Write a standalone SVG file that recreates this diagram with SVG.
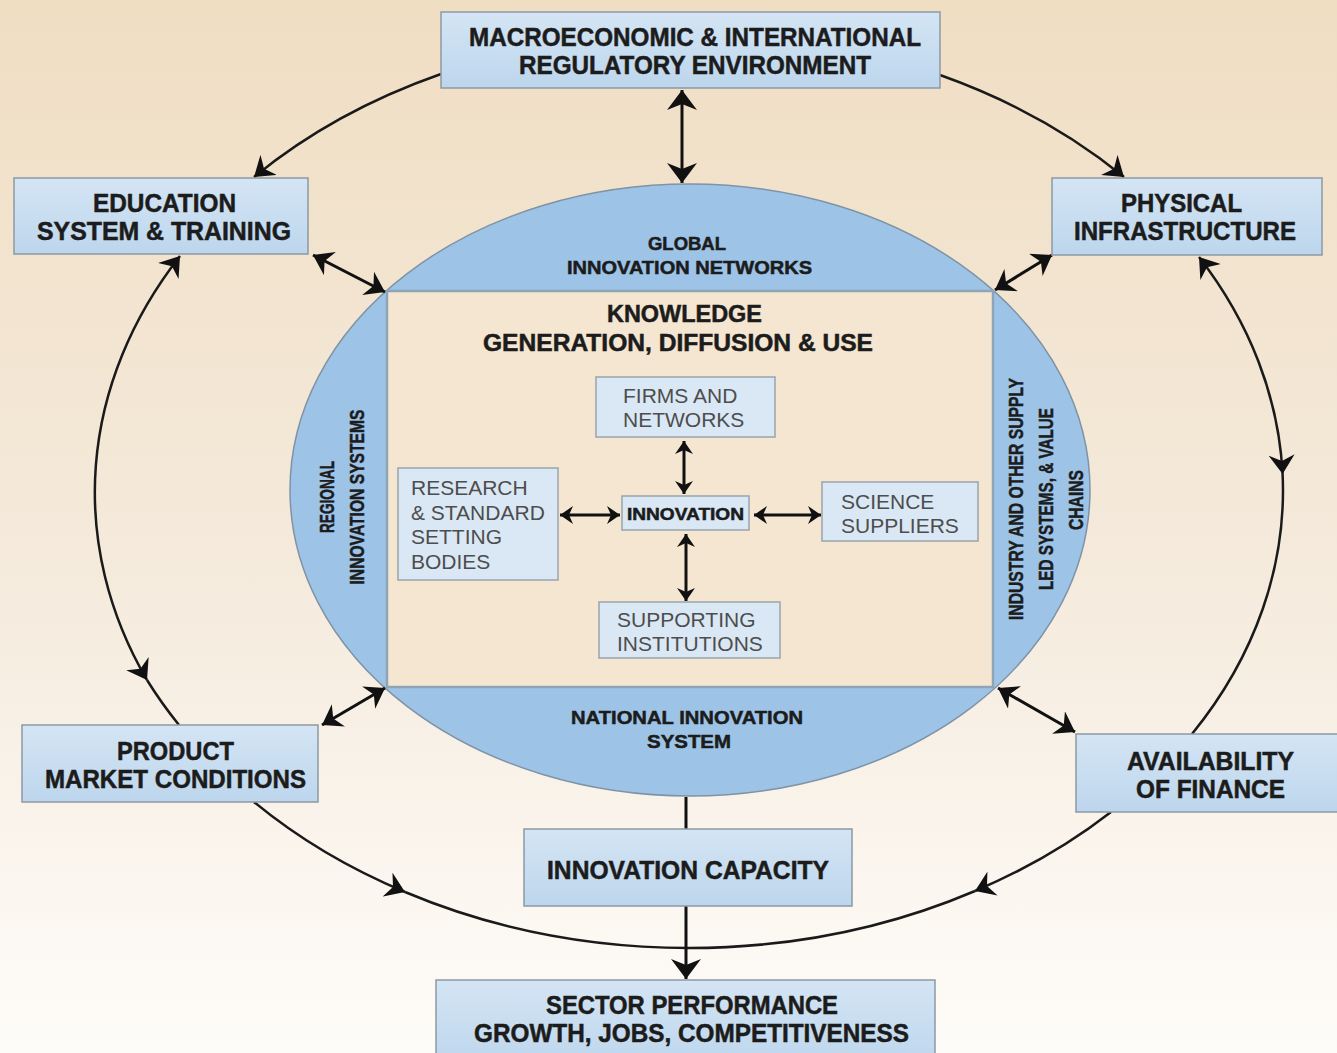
<svg xmlns="http://www.w3.org/2000/svg" width="1337" height="1053" viewBox="0 0 1337 1053">
<defs>
<linearGradient id="bg" x1="0" y1="0" x2="0" y2="1">
<stop offset="0" stop-color="#f0dec3"/>
<stop offset="0.5" stop-color="#f4e9da"/>
<stop offset="1" stop-color="#fefcf9"/>
</linearGradient>
<linearGradient id="boxg" x1="0" y1="0" x2="0" y2="1">
<stop offset="0" stop-color="#d4e5f4"/>
<stop offset="1" stop-color="#bdd6ed"/>
</linearGradient>
<marker id="big" markerUnits="userSpaceOnUse" viewBox="0 0 20 30" refX="20" refY="15" markerWidth="20" markerHeight="30" orient="auto-start-reverse">
<path d="M0,0 L20,15 L0,30 L6,15 z" fill="#111"/>
</marker>
<marker id="med" markerUnits="userSpaceOnUse" viewBox="0 0 19 26" refX="19" refY="13" markerWidth="19" markerHeight="26" orient="auto-start-reverse">
<path d="M0,0 L19,13 L0,26 L6,13 z" fill="#111"/>
</marker>
<marker id="sm" markerUnits="userSpaceOnUse" viewBox="0 0 13 18" refX="13" refY="9" markerWidth="13" markerHeight="18" orient="auto-start-reverse">
<path d="M0,0 L13,9 L0,18 L4,9 z" fill="#111"/>
</marker>
</defs>
<style>
.box{fill:url(#boxg);stroke:#8c99a4;stroke-width:1.5}
.ibox{fill:#dae8f5;stroke:#9aa4ac;stroke-width:1.5}
.b{font-family:"Liberation Sans",Arial,sans-serif;font-weight:bold;fill:#1c1c1c;stroke:#1c1c1c;stroke-width:0.5}
.r{font-family:"Liberation Sans",Arial,sans-serif;font-size:21px;fill:#4d4d4d}
.arc{fill:none;stroke:#1a1a1a;stroke-width:2.5}
.dbl{fill:none;stroke:#111;stroke-width:3}
</style>
<rect x="0" y="0" width="1337" height="1053" fill="url(#bg)"/>

<g id="innovation-system">
<ellipse cx="690" cy="490" rx="400" ry="306" fill="#9dc4e7" stroke="#7f93a5" stroke-width="1.5"/>
<rect x="387" y="291" width="606" height="396" fill="#f4e6d1" stroke="#8fa4b7" stroke-width="2.5"/>
<text class="b" font-size="18" x="648" y="250" textLength="78" lengthAdjust="spacingAndGlyphs">GLOBAL</text>
<text class="b" font-size="18" x="567" y="274" textLength="245" lengthAdjust="spacingAndGlyphs">INNOVATION NETWORKS</text>
<text class="b" font-size="18" x="571" y="724" textLength="232" lengthAdjust="spacingAndGlyphs">NATIONAL INNOVATION</text>
<text class="b" font-size="18" x="647" y="748" textLength="84" lengthAdjust="spacingAndGlyphs">SYSTEM</text>
<text class="b" font-size="21" text-anchor="middle" transform="translate(334,497) rotate(-90)" textLength="72" lengthAdjust="spacingAndGlyphs">REGIONAL</text>
<text class="b" font-size="21" text-anchor="middle" transform="translate(364,497) rotate(-90)" textLength="175" lengthAdjust="spacingAndGlyphs">INNOVATION SYSTEMS</text>
<text class="b" font-size="21" text-anchor="middle" transform="translate(1023,499) rotate(-90)" textLength="242" lengthAdjust="spacingAndGlyphs">INDUSTRY AND OTHER SUPPLY</text>
<text class="b" font-size="21" text-anchor="middle" transform="translate(1053,499) rotate(-90)" textLength="182" lengthAdjust="spacingAndGlyphs">LED SYSTEMS, &amp; VALUE</text>
<text class="b" font-size="21" text-anchor="middle" transform="translate(1083,500) rotate(-90)" textLength="60" lengthAdjust="spacingAndGlyphs">CHAINS</text>
<text class="b" font-size="23" x="607" y="322" textLength="155" lengthAdjust="spacingAndGlyphs">KNOWLEDGE</text>
<text class="b" font-size="23" x="483" y="351" textLength="390" lengthAdjust="spacingAndGlyphs">GENERATION, DIFFUSION &amp; USE</text>
</g>

<g id="connectors">
<path class="arc" d="M441,74 A594,458 0 0 0 254,177" marker-end="url(#med)"/>
<path class="arc" d="M940,75 A594,458 0 0 1 1124,177" marker-end="url(#med)"/>
<path class="arc" d="M180,256 A594,458 0 0 0 147,680" marker-start="url(#med)" marker-end="url(#med)"/>
<path class="arc" d="M147,680 A594,458 0 0 0 179,725"/>
<path class="arc" d="M1199,257 A594,458 0 0 1 1282.6,474" marker-start="url(#med)" marker-end="url(#med)"/>
<path class="arc" d="M1282.6,474 A594,458 0 0 1 1192,734"/>
<path class="arc" d="M254,802 A594,458 0 0 0 405,892" marker-end="url(#med)"/>
<path class="arc" d="M405,892 A594,458 0 0 0 689,948"/>
<path class="arc" d="M1111,812 A594,458 0 0 1 975,891" marker-end="url(#med)"/>
<path class="arc" d="M975,891 A594,458 0 0 1 689,948"/>
<line class="dbl" x1="682" y1="90" x2="682" y2="183" marker-start="url(#big)" marker-end="url(#big)"/>
<line class="dbl" x1="313" y1="255" x2="385" y2="292" marker-start="url(#med)" marker-end="url(#med)"/>
<line class="dbl" x1="1052" y1="255" x2="995" y2="290" marker-start="url(#med)" marker-end="url(#med)"/>
<line class="dbl" x1="322" y1="725" x2="385" y2="688" marker-start="url(#med)" marker-end="url(#med)"/>
<line class="dbl" x1="998" y1="688" x2="1075" y2="732" marker-start="url(#med)" marker-end="url(#med)"/>
<line class="dbl" x1="684" y1="441" x2="684" y2="494" marker-start="url(#sm)" marker-end="url(#sm)"/>
<line class="dbl" x1="686" y1="534" x2="686" y2="601" marker-start="url(#sm)" marker-end="url(#sm)"/>
<line class="dbl" x1="560" y1="515" x2="620" y2="515" marker-start="url(#sm)" marker-end="url(#sm)"/>
<line class="dbl" x1="754" y1="515" x2="821" y2="515" marker-start="url(#sm)" marker-end="url(#sm)"/>
<line class="dbl" x1="686" y1="797" x2="686" y2="829"/>
<line class="dbl" x1="686" y1="906" x2="686" y2="979" marker-end="url(#big)"/>
</g>

<g id="firms">
<rect class="ibox" x="596" y="377" width="179" height="60"/>
<text class="r" x="623" y="403">FIRMS AND</text>
<text class="r" x="623" y="427">NETWORKS</text>
</g>
<g id="research">
<rect class="ibox" x="398" y="468" width="160" height="112"/>
<text class="r" x="411" y="495">RESEARCH</text>
<text class="r" x="411" y="520">&amp; STANDARD</text>
<text class="r" x="411" y="544">SETTING</text>
<text class="r" x="411" y="569">BODIES</text>
</g>
<g id="innovation">
<rect class="ibox" x="622" y="496" width="127" height="34"/>
<text class="b" font-size="16" x="627" y="520" textLength="117" lengthAdjust="spacingAndGlyphs">INNOVATION</text>
</g>
<g id="science">
<rect class="ibox" x="822" y="482" width="156" height="59"/>
<text class="r" x="841" y="509">SCIENCE</text>
<text class="r" x="841" y="533">SUPPLIERS</text>
</g>
<g id="supporting">
<rect class="ibox" x="599" y="602" width="181" height="56"/>
<text class="r" x="617" y="627">SUPPORTING</text>
<text class="r" x="617" y="651">INSTITUTIONS</text>
</g>

<g id="macro">
<rect class="box" x="441" y="12" width="499" height="76"/>
<text class="b" font-size="25" x="469" y="46" textLength="452" lengthAdjust="spacingAndGlyphs">MACROECONOMIC &amp; INTERNATIONAL</text>
<text class="b" font-size="25" x="519" y="74" textLength="352" lengthAdjust="spacingAndGlyphs">REGULATORY ENVIRONMENT</text>
</g>
<g id="education">
<rect class="box" x="14" y="178" width="294" height="76"/>
<text class="b" font-size="25" x="93" y="212" textLength="143" lengthAdjust="spacingAndGlyphs">EDUCATION</text>
<text class="b" font-size="25" x="37" y="240" textLength="254" lengthAdjust="spacingAndGlyphs">SYSTEM &amp; TRAINING</text>
</g>
<g id="physical">
<rect class="box" x="1052" y="178" width="270" height="77"/>
<text class="b" font-size="25" x="1121" y="212" textLength="121" lengthAdjust="spacingAndGlyphs">PHYSICAL</text>
<text class="b" font-size="25" x="1074" y="240" textLength="222" lengthAdjust="spacingAndGlyphs">INFRASTRUCTURE</text>
</g>
<g id="product">
<rect class="box" x="22" y="725" width="296" height="77"/>
<text class="b" font-size="25" x="117" y="760" textLength="117" lengthAdjust="spacingAndGlyphs">PRODUCT</text>
<text class="b" font-size="25" x="45" y="788" textLength="261" lengthAdjust="spacingAndGlyphs">MARKET CONDITIONS</text>
</g>
<g id="finance">
<rect class="box" x="1076" y="734" width="270" height="78"/>
<text class="b" font-size="25" x="1127" y="770" textLength="167" lengthAdjust="spacingAndGlyphs">AVAILABILITY</text>
<text class="b" font-size="25" x="1136" y="798" textLength="149" lengthAdjust="spacingAndGlyphs">OF FINANCE</text>
</g>
<g id="capacity">
<rect class="box" x="524" y="829" width="328" height="77"/>
<text class="b" font-size="25" x="547" y="879" textLength="282" lengthAdjust="spacingAndGlyphs">INNOVATION CAPACITY</text>
</g>
<g id="sector">
<rect class="box" x="436" y="980" width="499" height="85"/>
<text class="b" font-size="25" x="546" y="1014" textLength="292" lengthAdjust="spacingAndGlyphs">SECTOR PERFORMANCE</text>
<text class="b" font-size="25" x="474" y="1042" textLength="435" lengthAdjust="spacingAndGlyphs">GROWTH, JOBS, COMPETITIVENESS</text>
</g>
</svg>
